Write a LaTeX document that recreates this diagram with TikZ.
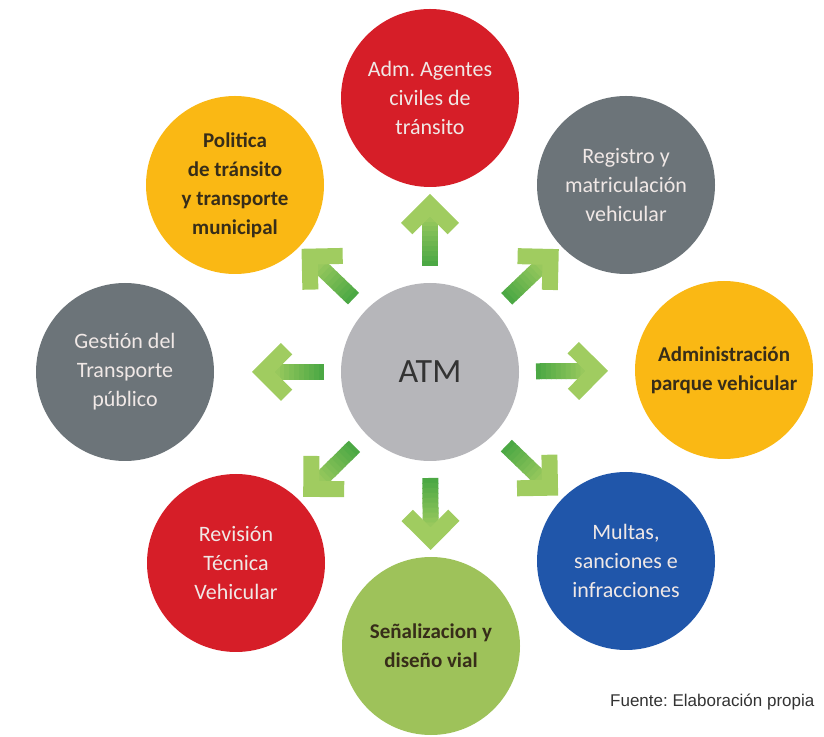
\documentclass[tikz,border=0pt]{standalone}
\usepackage{fontspec}
\setmainfont{Carlito}
\newfontfamily\fuentefont{Liberation Sans}
\usetikzlibrary{calc}
\frenchspacing

\definecolor{rojo}{RGB}{214,30,40}
\definecolor{amarillo}{RGB}{250,184,20}
\definecolor{gris}{RGB}{108,116,121}
\definecolor{azul}{RGB}{32,86,170}
\definecolor{verde}{RGB}{158,194,90}
\definecolor{grisatm}{RGB}{182,182,186}
\definecolor{flechaosc}{RGB}{76,168,68}
\definecolor{flechaclara}{RGB}{160,204,96}
\definecolor{textoclaro}{RGB}{240,232,230}
\definecolor{textooscuro}{RGB}{55,45,25}

\tikzset{
  area/.style={circle, minimum size=178pt, inner sep=0pt, align=center,
    font=\fontsize{22}{29}\selectfont},
  claro/.style={area, text=textoclaro},
  oscuro/.style={area, text=textooscuro, font=\fontsize{21}{29}\selectfont\bfseries}
}

% flecha verde desde el ATM hacia el nodo #1
\newcommand{\flecha}[1]{
  \coordinate (b) at ($(atm)!106pt!(#1)$);
  \coordinate (t) at ($(atm)!178pt!(#1)$);
  \coordinate (v) at ($(t)!22.6pt!(b)$);
  \foreach \i in {0,...,9}{
    \pgfmathtruncatemacro\p{100-10*\i}
    \draw[line width=16pt, color=flechaosc!\p!flechaclara] ($(b)!\i/10!(v)$) -- ($(b)!{(\i+1.2)/10}!(v)$);
  }
  \fill[flechaclara] ($(t)!41pt!45:(b)$) -- (t) -- ($(t)!41pt!-45:(b)$)
    -- ($(v)!25pt!-45:(b)$) -- (v) -- ($(v)!25pt!45:(b)$) -- cycle;
}

\begin{document}
\begin{tikzpicture}[x=1pt, y=1pt]
	\useasboundingbox (0,0) rectangle (824,736);
	%\draw[help lines] (0,0) grid[step=50] (824,736);
	\node[area, fill=grisatm, text=black!80, font=\fontsize{34}{38}\selectfont] (atm) at (430,364) {ATM};
	\node[claro, fill=rojo] (agentes) at (430,638) {Adm. Agentes\\civiles de\\tránsito};
	\node[claro, fill=gris] (registro) at (626,551) {Registro y\\matriculación\\vehicular};
	\node[oscuro, fill=amarillo] (parque) at (724,366) {Administración\\parque vehicular};
	\node[claro, fill=azul] (multas) at (626,175) {Multas,\\sanciones e\\infracciones};
	\node[oscuro, fill=verde] (senal) at (431,90) {Señalizacion y\\diseño vial};
	\node[claro, fill=rojo] (revision) at (236,173) {Revisión\\Técnica\\Vehicular};
	\node[claro, fill=gris] (gestion) at (125,364) {Gestión del\\Transporte\\público};
	\node[oscuro, fill=amarillo] (politica) at (235,551) {Politica\\de tránsito\\y transporte\\municipal};

	\flecha{agentes}
	\flecha{registro}
	\flecha{parque}
	\flecha{multas}
	\flecha{senal}
	\flecha{revision}
	\flecha{gestion}
	\flecha{politica}

	\node[anchor=base west, inner sep=0pt, text=black!80, font=\fuentefont\fontsize{17}{20}\selectfont] (fuente) at (610,30) {Fuente: Elaboración propia};
\end{tikzpicture}
\end{document}
